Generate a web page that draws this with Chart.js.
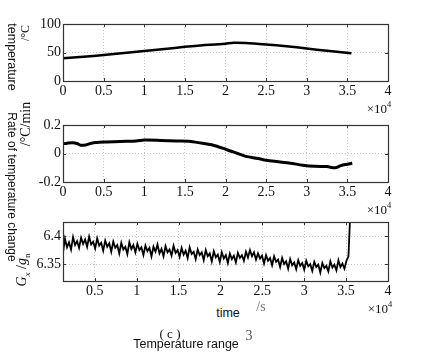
<!DOCTYPE html>
<html>
<head>
<meta charset="utf-8">
<script src="https://cdn.jsdelivr.net/npm/chart.js@4"></script>
<style>
  body { margin: 0; background: #fff; }
  #wrap { position: relative; width: 422px; height: 358px; overflow: hidden; }
  canvas { position: absolute; left: 0; }
  .lbl { position: absolute; white-space: nowrap; color: #111; transform: translate(-50%, -50%); line-height: 1; }
  .sans { font-family: 'Liberation Sans', Arial, sans-serif; font-size: 12.5px; }
  .serif { font-family: 'Liberation Serif', 'Times New Roman', serif; font-size: 14px; }
  .cw { transform: translate(-50%, -50%) rotate(90deg); }
  .ccw { transform: translate(-50%, -50%) rotate(-90deg); }
  sup, sub { font-size: 65%; line-height: 0; }
</style>
</head>
<body>
<div id="wrap">
  <canvas id="tempChart" width="422" height="100" style="top:0"></canvas>
  <canvas id="rateChart" width="422" height="100" style="top:100px"></canvas>
  <canvas id="gxChart" width="422" height="100" style="top:200px"></canvas>

  <div class="lbl sans cw" style="left:12px; top:57px">temperature</div>
  <div class="lbl serif ccw" style="left:25px; top:33px; font-size:12px">/°C</div>
  <div class="lbl serif" style="left:379px; top:108px; font-size:13px">×10<sup>4</sup></div>

  <div class="lbl sans cw" style="left:12px; top:187px; font-size:12px">Rate of temperature change</div>
  <div class="lbl serif ccw" style="left:26px; top:124px">/°C/min</div>
  <div class="lbl serif" style="left:379px; top:209px; font-size:13px">×10<sup>4</sup></div>

  <div class="lbl serif ccw" style="left:22px; top:270px"><i>G</i><sub><i>x</i></sub> /<i>g</i><sub>n</sub></div>
  <div class="lbl serif" style="left:380px; top:308px; font-size:13px">×10<sup>4</sup></div>
  <div class="lbl sans" style="left:228px; top:313px">time</div>
  <div class="lbl serif" style="left:261px; top:307px; color:#777">/s</div>
  <div class="lbl serif" style="left:170px; top:333px; font-size:13px">( c )</div>
  <div class="lbl sans" style="left:186px; top:344px">Temperature range</div>
  <div class="lbl serif" style="left:249px; top:336px; color:#555">3</div>
</div>
<script>
// time axis ticks (s), shown in units of 10^4
const timeTicks = [0, 5000, 10000, 15000, 20000, 25000, 30000, 35000, 40000];
const gxTimeTicks = [5000, 10000, 15000, 20000, 25000, 30000, 35000, 40000];
const tempTicks = [0, 50, 100];
const rateTicks = [-0.2, 0, 0.2];
const gxTicks = [6.35, 6.4];

// temperature /°C
const tempTimes = [0, 2500, 5000, 7500, 10000, 12500, 15000, 17500, 20000, 21000, 22500, 25000, 27500, 30000, 32500, 35500];
const tempValues = [40, 42.5, 45.5, 49, 52.5, 56, 60, 63, 65.5, 67, 66.5, 64, 61, 57, 53, 48.5];

// rate of temperature change /°C/min
const rateTimes = [0, 500, 1200, 1800, 2200, 2800, 3500, 5000, 7000, 9000, 10000, 12000, 14000, 15500, 17000, 18500,
  20000, 21500, 22500, 24000, 25000, 26500, 28000, 29500, 31000, 32500, 33500, 34200, 35000, 35600];
const rateValues = [0.068, 0.072, 0.075, 0.068, 0.058, 0.06, 0.072, 0.08, 0.085, 0.088, 0.094, 0.092, 0.088, 0.086, 0.073, 0.058,
  0.03, 0.0, -0.02, -0.035, -0.048, -0.058, -0.068, -0.082, -0.09, -0.092, -0.1, -0.085, -0.075, -0.068];

// Gx/gn, sampled every 240 s from 1200 s
const gxStart = 1200;
const gxStep = 240;
const gxValues = [
  6.370, 6.395, 6.380, 6.389, 6.376, 6.398, 6.384, 6.391, 6.379, 6.397, 6.386, 6.394,
  6.381, 6.399, 6.385, 6.390, 6.378, 6.396, 6.383, 6.388, 6.374, 6.392, 6.381, 6.387,
  6.372, 6.390, 6.379, 6.384, 6.369, 6.388, 6.376, 6.381, 6.368, 6.389, 6.377, 6.384,
  6.371, 6.386, 6.375, 6.380, 6.366, 6.383, 6.373, 6.379, 6.364, 6.381, 6.372, 6.385,
  6.369, 6.377, 6.364, 6.382, 6.371, 6.376, 6.365, 6.383, 6.370, 6.375, 6.363, 6.379,
  6.367, 6.374, 6.361, 6.380, 6.368, 6.372, 6.359, 6.376, 6.366, 6.371, 6.357, 6.375,
  6.364, 6.369, 6.355, 6.373, 6.362, 6.367, 6.354, 6.371, 6.360, 6.366, 6.352, 6.369,
  6.359, 6.365, 6.353, 6.370, 6.361, 6.366, 6.356, 6.372, 6.362, 6.375, 6.364, 6.371,
  6.358, 6.369, 6.360, 6.365, 6.351, 6.366, 6.356, 6.361, 6.348, 6.364, 6.354, 6.358,
  6.345, 6.361, 6.350, 6.355, 6.342, 6.359, 6.348, 6.353, 6.341, 6.357, 6.347, 6.352,
  6.340, 6.356, 6.346, 6.350, 6.338, 6.354, 6.345, 6.349, 6.335, 6.352, 6.343, 6.347,
  6.337, 6.355, 6.344, 6.349, 6.339, 6.357, 6.345, 6.351, 6.342, 6.356, 6.364, 6.450
];
const gxTimes = gxValues.map((_, i) => gxStart + i * gxStep);

Chart.defaults.font.family = "'Liberation Serif', 'Times New Roman', serif";
Chart.defaults.color = '#111';

// box round the plot with short inward tick marks, like the original figure
const framePlugin = {
  id: 'frame',
  afterDraw(chart) {
    const { ctx, chartArea: a, scales } = chart;
    ctx.save();
    ctx.strokeStyle = '#333';
    ctx.lineWidth = 1;
    ctx.beginPath();
    scales.x.ticks.forEach(t => {
      const px = Math.round(scales.x.getPixelForValue(t.value)) + 0.5;
      ctx.moveTo(px, a.top); ctx.lineTo(px, a.top + 3);
      ctx.moveTo(px, a.bottom); ctx.lineTo(px, a.bottom - 3);
    });
    scales.y.ticks.forEach(t => {
      const py = Math.round(scales.y.getPixelForValue(t.value)) + 0.5;
      ctx.moveTo(a.left, py); ctx.lineTo(a.left + 3, py);
      ctx.moveTo(a.right, py); ctx.lineTo(a.right - 3, py);
    });
    ctx.stroke();
    ctx.lineWidth = 1.2;
    ctx.strokeRect(Math.round(a.left) + 0.5, Math.round(a.top) + 0.5, Math.round(a.width), Math.round(a.height));
    ctx.restore();
  }
};

function makePanel(id, times, values, opts) {
  const pts = times.map((t, i) => ({ x: t, y: values[i] }));
  return new Chart(document.getElementById(id), {
    type: 'line',
    data: {
      datasets: [{
        data: pts,
        borderColor: '#000',
        borderWidth: opts.lineWidth,
        pointRadius: 0,
        tension: opts.tension,
        fill: false
      }]
    },
    options: {
      responsive: false,
      animation: false,
      events: [],
      layout: { padding: { top: opts.top, bottom: 0, left: 0, right: 34 } },
      plugins: { legend: { display: false }, tooltip: { enabled: false } },
      scales: {
        x: {
          type: 'linear',
          min: opts.xMin,
          max: 40000,
          afterBuildTicks: s => { s.ticks = opts.xTicks.map(v => ({ value: v })); },
          afterFit: s => { s.height = opts.xHeight; },
          grid: { color: '#c4c4c4', drawTicks: false },
          border: { display: false, dash: [1, 2] },
          ticks: {
            padding: 2,
            maxRotation: 0,
            autoSkip: false,
            font: { size: 14 },
            callback: v => String(v / 10000)
          }
        },
        y: {
          min: opts.yMin,
          max: opts.yMax,
          afterBuildTicks: s => { s.ticks = opts.yTicks.map(v => ({ value: v })); },
          afterFit: s => { s.width = 63; },
          grid: { color: '#c4c4c4', drawTicks: false },
          border: { display: false, dash: [1, 2] },
          ticks: {
            padding: 2,
            autoSkip: false,
            font: { size: 14 },
            callback: v => String(v)
          }
        }
      }
    },
    plugins: [framePlugin]
  });
}

makePanel('tempChart', tempTimes, tempValues, {
  top: 24, xHeight: 19, xMin: 0, xTicks: timeTicks,
  yMin: 0, yMax: 100, yTicks: tempTicks, lineWidth: 2.5, tension: 0.2
});
makePanel('rateChart', rateTimes, rateValues, {
  top: 25, xHeight: 18, xMin: 0, xTicks: timeTicks,
  yMin: -0.2, yMax: 0.2, yTicks: rateTicks, lineWidth: 3, tension: 0.3
});
makePanel('gxChart', gxTimes, gxValues, {
  top: 22, xHeight: 19, xMin: 1200, xTicks: gxTimeTicks,
  yMin: 6.32, yMax: 6.425, yTicks: gxTicks, lineWidth: 1.8, tension: 0
});
</script>
</body>
</html>
